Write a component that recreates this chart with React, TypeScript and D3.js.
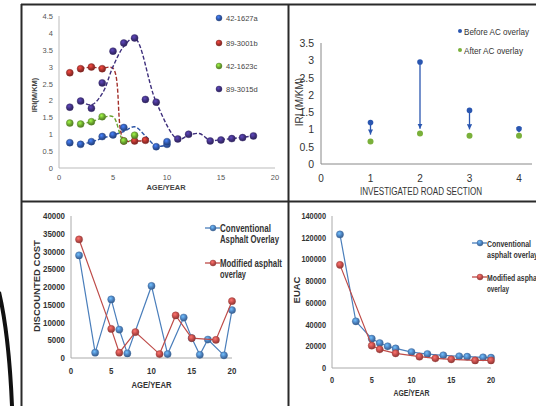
import React from "react";
import * as d3 from "d3";

// ---- panel 1: IRI vs age, four sections (points + dashed trend) ----
const p1Names = ["42-1627a", "89-3001b", "42-1623c", "89-3015d"];
const p1Colors = ["#2f56a6", "#a3302b", "#6aa32f", "#3e2f7c"];
const p1Points: [number, number][][] = [
  [[1, 0.75], [2, 0.7], [3, 0.78], [4, 0.93], [5, 0.98], [6, 1.2], [9, 0.63], [10, 0.7], [10, 0.78]],
  [[1, 2.82], [2, 2.94], [3, 2.99], [4, 2.94], [6, 0.8], [7, 0.8], [8, 0.82]],
  [[1, 1.33], [2, 1.3], [3, 1.37], [4, 1.52], [6, 0.8], [7, 0.97]],
  [[1, 1.8], [2, 1.98], [3, 1.77], [4, 2.52], [5, 3.46], [6, 3.7], [7, 3.85], [8, 2.03], [9, 1.95],
   [11, 0.86], [12, 1.0], [14, 0.8], [15, 0.83], [16, 0.87], [17, 0.9], [18, 0.95]],
];
const p1Trend: [number, number][][] = [
  [[2, 0.7], [3, 0.77], [4, 0.88], [5, 0.97], [6, 1.08], [7, 1.22], [8, 0.95], [9, 0.65], [10, 0.68]],
  [[2, 2.95], [3, 2.98], [4, 2.96], [5, 2.95], [6, 0.83], [7, 0.8], [8, 0.8]],
  [[2, 1.3], [3, 1.37], [4, 1.48], [5, 1.52], [6, 0.8], [7, 0.85]],
  [[2, 1.98], [3, 1.87], [4, 2.2], [5, 3.0], [6, 3.6], [7, 3.85], [9, 1.95], [11, 0.85], [12, 0.97],
   [13, 1.02], [14, 0.82], [15, 0.84], [16, 0.87], [17, 0.91], [18, 0.95]],
];
const p1YTicks = [0, 0.5, 1, 1.5, 2, 2.5, 3, 3.5, 4, 4.5];
const p1XTicks = [0, 5, 10, 15, 20];

// ---- panel 2: before / after AC overlay ----
const p2Sections = [1, 2, 3, 4];
const p2Before = [1.2, 2.95, 1.55, 1.02];
const p2After = [0.65, 0.88, 0.82, 0.82];
const p2ArrowTip = [0.85, 1.02, 1.0, 0.92];
const p2YTicks = [0, 0.5, 1, 1.5, 2, 2.5, 3, 3.5];
const p2XTicks = [0, 1, 2, 3, 4];

// ---- panel 3: discounted cost ----
const p3ConvX = [1, 3, 5, 6, 7, 10, 12, 14, 15, 16, 17, 19, 20];
const p3ConvY = [28900, 1500, 16500, 8000, 1300, 20300, 1100, 11400, 5600, 900, 5200, 750, 13500];
const p3ModX = [1, 5, 6, 8, 11, 13, 15, 18, 20];
const p3ModY = [33400, 8200, 1500, 7300, 1100, 12000, 5600, 5100, 16000];
const p3YTicks = [0, 5000, 10000, 15000, 20000, 25000, 30000, 35000, 40000];
const p34XTicks = [0, 5, 10, 15, 20];

// ---- panel 4: EUAC ----
const p4ConvX = [1, 3, 5, 6, 7, 8, 10, 12, 14, 16, 17, 19, 20];
const p4ConvY = [123000, 43000, 27000, 23000, 20000, 18000, 14700, 12900, 11700, 10800, 10400, 9800, 9500];
const p4ModX = [1, 5, 6, 8, 11, 13, 15, 18, 20];
const p4ModY = [95000, 20600, 17200, 13500, 10400, 8900, 8000, 7000, 7000];
const p4YTicks = [0, 20000, 40000, 60000, 80000, 100000, 120000, 140000];

const BLUE = "#4a7ebb";
const RED = "#be4b48";
const SANS = "Liberation Sans, Arial, sans-serif";

function Ball({ x, y, color, r = 3.5, id }: { x: number; y: number; color: string; r?: number; id: string }) {
  return <circle cx={x} cy={y} r={r} fill={`url(#${id})`} stroke={d3.color(color)!.darker(0.6).toString()} strokeWidth={0.4} />;
}

function Gradients({ items }: { items: [string, string][] }) {
  return (
    <defs>
      {items.map(([id, c]) => (
        <radialGradient key={id} id={id} cx="40%" cy="35%" r="65%">
          <stop offset="0%" stopColor={d3.color(c)!.brighter(1.2).toString()} />
          <stop offset="60%" stopColor={c} />
          <stop offset="100%" stopColor={d3.color(c)!.darker(0.8).toString()} />
        </radialGradient>
      ))}
    </defs>
  );
}

// condensed bold text (the source uses a narrow face)
function NText(props: { x: number; y: number; w: number; size: number; anchor?: string; children: string }) {
  return (
    <text x={props.x} y={props.y} fontSize={props.size} fontWeight="bold" fill="#333"
      textAnchor={props.anchor || "start"} textLength={props.w} lengthAdjust="spacingAndGlyphs">{props.children}</text>
  );
}

function Panel1() {
  const x = d3.scaleLinear().domain([0, 20]).range([59, 275]);
  const y = d3.scaleLinear().domain([0, 4.5]).range([168, 16]);
  const line = d3.line<[number, number]>().x((d) => x(d[0])).y((d) => y(d[1])).curve(d3.curveCatmullRom.alpha(0.5));
  const legendY = [18, 43, 66, 89];
  return (
    <g fontFamily={SANS}>
      <line x1={59} x2={59} y1={16} y2={168} stroke="#bbb" />
      <line x1={59} x2={275} y1={168} y2={168} stroke="#bbb" />
      {p1YTicks.map((t) => (
        <text key={t} x={53} y={y(t) + 3} fontSize={7.5} fill="#555" textAnchor="end">{t}</text>
      ))}
      {p1XTicks.map((t) => (
        <text key={t} x={x(t)} y={180} fontSize={7.5} fill="#555" textAnchor="middle">{t}</text>
      ))}
      <text x={166} y={190} fontSize={7.5} fontWeight="bold" fill="#444" textAnchor="middle">AGE/YEAR</text>
      <text transform="translate(37,95) rotate(-90)" fontSize={7.5} fontWeight="bold" fill="#444" textAnchor="middle">IRI(M/KM)</text>
      {p1Trend.map((s, i) => (
        <path key={i} d={line(s)!} fill="none" stroke={p1Colors[i]} strokeWidth={1.4} strokeDasharray="4,2" />
      ))}
      {p1Points.map((s, i) =>
        s.map((p, j) => <Ball key={`${i}-${j}`} x={x(p[0])} y={y(p[1])} color={p1Colors[i]} id={`g1-${i}`} />)
      )}
      {p1Names.map((n, i) => (
        <g key={n}>
          <Ball x={219} y={legendY[i]} color={p1Colors[i]} r={3} id={`g1-${i}`} />
          <text x={226} y={legendY[i] + 3} fontSize={7.5} fill="#444">{n}</text>
        </g>
      ))}
    </g>
  );
}

function Panel2() {
  const x = d3.scaleLinear().domain([0, 4]).range([321, 519]);
  const y = d3.scaleLinear().domain([0, 3.5]).range([164, 43]);
  const blue = "#2a56b0";
  const green = "#7ab03a";
  return (
    <g fontFamily={SANS}>
      <defs>
        <marker id="arr" viewBox="0 0 10 10" refX={10} refY={5} markerWidth={4} markerHeight={4} orient="auto">
          <path d="M0,0 L10,5 L0,10 Z" fill={blue} />
        </marker>
      </defs>
      <line x1={321} x2={321} y1={43} y2={164} stroke="#888" />
      <line x1={321} x2={532} y1={164} y2={164} stroke="#888" />
      {p2YTicks.map((t) => (
        <text key={t} x={314} y={y(t) + 4} fontSize={10.5} fill="#333" textAnchor="end">{t}</text>
      ))}
      {p2XTicks.map((t) => (
        <text key={t} x={x(t)} y={182} fontSize={10} fill="#333" textAnchor="middle">{t}</text>
      ))}
      <text x={421} y={195} fontSize={10} fill="#333" textAnchor="middle" textLength={122} lengthAdjust="spacingAndGlyphs">INVESTIGATED ROAD SECTION</text>
      <text transform="translate(303,102) rotate(-90)" fontSize={10} fill="#333" textAnchor="middle">IRI (M/KM)</text>
      {p2Sections.map((s, i) => (
        <g key={s}>
          <line x1={x(s)} x2={x(s)} y1={y(p2Before[i])} y2={y(p2ArrowTip[i])} stroke={blue} strokeWidth={1.3} markerEnd="url(#arr)" />
          <circle cx={x(s)} cy={y(p2Before[i])} r={2.8} fill={blue} />
          <circle cx={x(s)} cy={y(p2After[i])} r={3} fill={green} />
        </g>
      ))}
      <circle cx={460} cy={31} r={2} fill={blue} />
      <text x={464} y={34.5} fontSize={9.5} fill="#333" textLength={65} lengthAdjust="spacingAndGlyphs">Before AC overlay</text>
      <circle cx={460} cy={50} r={2} fill={green} />
      <text x={464} y={53.5} fontSize={9.5} fill="#333" textLength={59} lengthAdjust="spacingAndGlyphs">After AC overlay</text>
    </g>
  );
}

function CostPanel(props: {
  x0: number; x1: number; y0: number; y1: number; yMax: number; yTicks: number[];
  convX: number[]; convY: number[]; modX: number[]; modY: number[];
  yTitle: string; titleX: number; titleY: number; xLabelY: number; xTitleY: number; xTitleW: number;
  charW: number; tickSize: number;
  legX: number; legY: number[]; legText: [string, string][]; legW: [number, number][]; legSize: number; legGap: number;
  gid: string;
}) {
  const x = d3.scaleLinear().domain([0, 20]).range([props.x0, props.x1]);
  const y = d3.scaleLinear().domain([0, props.yMax]).range([props.y0, props.y1]);
  const mk = (xs: number[], ys: number[]) =>
    d3.line<number>().x((_, i) => x(xs[i])).y((d) => y(d))(ys)!;
  const series: [number[], number[], string, string][] = [
    [props.convX, props.convY, BLUE, props.gid + "b"],
    [props.modX, props.modY, RED, props.gid + "r"],
  ];
  return (
    <g fontFamily={SANS}>
      <Gradients items={[[props.gid + "b", BLUE], [props.gid + "r", RED]]} />
      <line x1={props.x0} x2={props.x0} y1={props.y1} y2={props.y0} stroke="#aaa" />
      <line x1={props.x0} x2={props.x1} y1={props.y0} y2={props.y0} stroke="#aaa" />
      {props.yTicks.map((t) => (
        <NText key={t} x={props.x0 - 6} y={y(t) + 3} size={props.tickSize} anchor="end" w={String(t).length * props.charW}>{String(t)}</NText>
      ))}
      {p34XTicks.map((t) => (
        <NText key={t} x={x(t)} y={props.xLabelY} size={props.tickSize} anchor="middle" w={String(t).length * props.charW}>{String(t)}</NText>
      ))}
      <NText x={x(10)} y={props.xTitleY} size={props.tickSize + 0.5} anchor="middle" w={props.xTitleW}>AGE/YEAR</NText>
      <text transform={`translate(${props.titleX},${props.titleY}) rotate(-90)`} fontSize={9.5} fontWeight="bold" fill="#333" textAnchor="middle">{props.yTitle}</text>
      {series.map(([xs, ys, c, id]) => (
        <g key={id}>
          <path d={mk(xs, ys)} fill="none" stroke={c} strokeWidth={1.2} />
          {ys.map((v, i) => <Ball key={i} x={x(xs[i])} y={y(v)} color={c} id={id} r={3.6} />)}
        </g>
      ))}
      {props.legText.map((lines, i) => (
        <g key={i}>
          <line x1={props.legX - 8} x2={props.legX + 7} y1={props.legY[i]} y2={props.legY[i]} stroke={i ? RED : BLUE} strokeWidth={1.3} />
          <Ball x={props.legX} y={props.legY[i]} color={i ? RED : BLUE} id={props.gid + (i ? "r" : "b")} r={3} />
          <NText x={props.legX + 7} y={props.legY[i] + 3.5} size={props.legSize} w={props.legW[i][0]}>{lines[0]}</NText>
          <NText x={props.legX + 7} y={props.legY[i] + 3.5 + props.legGap} size={props.legSize} w={props.legW[i][1]}>{lines[1]}</NText>
        </g>
      ))}
    </g>
  );
}

export default function App() {
  return (
    <svg width={536} height={406} style={{ position: "absolute", left: 0, top: 0, background: "#fff" }}>
      <Gradients items={p1Colors.map((c, i) => [`g1-${i}`, c] as [string, string])} />
      <rect width={536} height={406} fill="#fff" />
      <Panel1 />
      <Panel2 />
      <CostPanel
        x0={71} x1={232} y0={358} y1={216} yMax={40000} yTicks={p3YTicks}
        convX={p3ConvX} convY={p3ConvY} modX={p3ModX} modY={p3ModY}
        yTitle="DISCOUNTED COST" titleX={40} titleY={286} xLabelY={374} xTitleY={388} xTitleW={40}
        charW={4.4} tickSize={8.5}
        legX={213} legY={[228, 263]} legText={[["Conventional", "Asphalt Overlay"], ["Modified asphalt", "overlay"]]}
        legW={[[51, 59], [62, 26]]} legSize={10} legGap={11.5}
        gid="g3"
      />
      <CostPanel
        x0={332} x1={491} y0={368} y1={216} yMax={140000} yTicks={p4YTicks}
        convX={p4ConvX} convY={p4ConvY} modX={p4ModX} modY={p4ModY}
        yTitle="EUAC" titleX={300} titleY={290} xLabelY={383} xTitleY={396} xTitleW={36}
        charW={4.1} tickSize={8.5}
        legX={480} legY={[243, 277]} legText={[["Conventional", "asphalt overlay"], ["Modified asphalt", "overlay"]]}
        legW={[[44, 51], [54, 22]]} legSize={9} legGap={11}
        gid="g4"
      />
      {/* frame */}
      <g stroke="#2a2a2a" strokeWidth={2} fill="none">
        <line x1={21} x2={536} y1={4.5} y2={4.5} />
        <line x1={21.5} x2={21.5} y1={4} y2={406} />
        <line x1={288.5} x2={288.5} y1={4} y2={406} />
        <line x1={21} x2={536} y1={201.5} y2={201.5} />
      </g>
      <path d="M -1 292 Q 9 335 12 406" fill="none" stroke="#111" strokeWidth={4} />
    </svg>
  );
}
